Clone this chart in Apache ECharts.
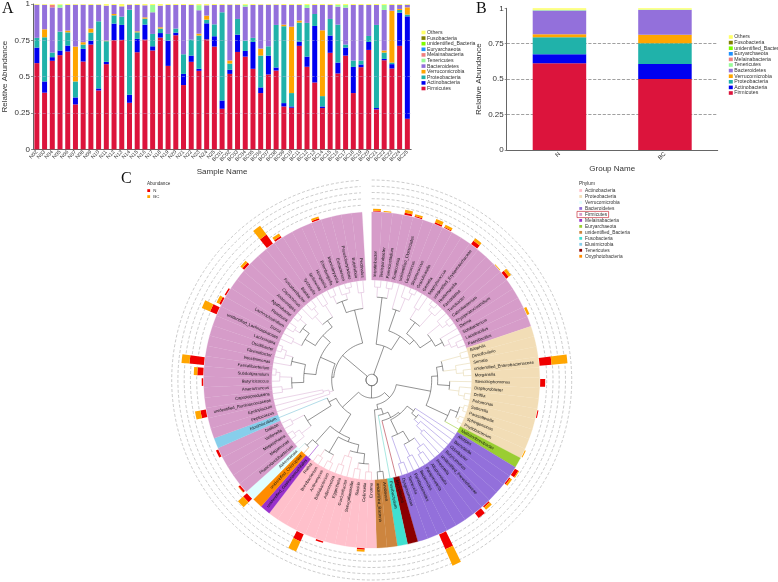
<!DOCTYPE html>
<html><head><meta charset="utf-8">
<style>html,body{margin:0;padding:0;background:#fff}#c{width:778px;height:582px}#c canvas{filter:blur(.35px)}</style>
<script src="https://cdn.jsdelivr.net/npm/echarts@6/dist/echarts.min.js"></script>
</head><body><div id="c"></div>
<script>
const FONT='"Liberation Sans",Arial,sans-serif';
// ---------- Panel A ----------
const sampleNames=['N02','N03','N04','N05','N06','N07','N08','N09','N10','N11','N12','N13','N14','N15','N16','N17','N18','N19','N20','N21','N22','N23','N24','N25','BC01','BC02','BC03','BC04','BC05','BC06','BC07','BC08','BC09','BC10','BC11','BC12','BC13','BC14','BC15','BC16','BC17','BC18','BC19','BC20','BC21','BC22','BC23','BC24','BC25'];
const firmicutesA=[.593,.39,.609,.648,.673,.309,.604,.721,.405,.586,.751,.753,.32,.668,.755,.68,.769,.574,.785,.442,.602,.54,.757,.707,.279,.519,.67,.638,.554,.387,.515,.542,.295,.286,.712,.568,.46,.284,.664,.522,.645,.387,.565,.684,.275,.613,.556,.712,.21];
const actinobacteriaA=[.107,.077,.025,.032,.041,.048,.087,.027,.014,.016,.114,.103,.055,.092,.103,.029,.031,.174,.018,.077,.043,.014,.11,.071,.057,.028,.119,.039,.185,.039,.13,.021,.023,.009,.029,.07,.389,.011,.119,.075,.055,.18,.019,.055,.009,.009,.03,.228,.705];
const proteobacteriaA=[.067,.304,.032,.13,.091,.11,.03,.055,.462,.142,.057,.057,.586,.045,.041,.085,.031,.046,.028,.135,.11,.229,.025,.082,.607,.043,.108,.071,.028,.219,.064,.293,.529,.092,.131,.232,.082,.071,.114,.261,.021,.044,.027,.041,.572,.044,.011,.019,.012];
const verrucomicrobiaA=[0,.055,0,0,.012,.24,.016,.028,0,.004,.009,0,0,.007,.009,0,.009,0,0,0,0,.013,.028,0,0,.021,0,0,0,.048,0,0,.011,.457,.014,0,0,.453,0,0,0,0,0,0,0,.014,.357,.007,.05];
const bacteroidetesA=[.228,.169,.311,.165,.176,.288,.258,.162,.114,.241,.062,.071,.034,.181,.083,.149,.149,.199,.162,.339,.238,.161,.071,.133,.05,.384,.098,.234,.226,.302,.286,.139,.135,.149,.107,.103,.062,.174,.096,.124,.254,.382,.382,.213,.137,.279,.039,.027,.018];
const tenericutesA=[0,0,0,.02,0,0,0,0,0,0,0,0,0,0,0,.05,0,0,0,0,0,.035,0,0,0,0,0,.012,0,0,0,0,0,0,0,.02,0,0,0,.012,.018,0,0,0,0,.035,0,0,0];
const melainabacteriaA=[0,0,.018,0,0,0,0,0,0,0,0,0,0,0,0,0,0,0,0,0,0,0,0,0,0,0,0,0,0,0,0,0,0,0,0,0,0,0,0,0,0,0,0,0,0,0,0,0,0];
const othersA=[.005,.005,.005,.005,.007,.005,.005,.007,.005,.011,.007,.016,.005,.007,.009,.007,.011,.007,.007,.007,.007,.008,.009,.007,.007,.005,.005,.006,.007,.005,.005,.005,.007,.007,.007,.007,.007,.007,.007,.006,.007,.007,.007,.007,.007,.006,.007,.007,.005];
// ---------- Panel B ----------
const groupNames=['N','BC'];
const firmicutesB=[.612,.501];
const actinobacteriaB=[.063,.106];
const proteobacteriaB=[.12,.146];
const verrucomicrobiaB=[.021,.061];
const bacteroidetesB=[.168,.174];
const tenericutesB=[.006,.004];
const othersB=[.01,.008];
// ---------- Stack legend ----------
const stackNames=['Firmicutes','Actinobacteria','Proteobacteria','Verrucomicrobia','Bacteroidetes','Tenericutes','Melainabacteria','Euryarchaeota','unidentified_Bacteria','Fusobacteria','Others'];
const stackColors=['#DC143C','#0000F0','#20B2AA','#FFA500','#9370DB','#98FB98','#F08080','#1E90FF','#7CFC00','#808000','#FFFF66'];
// ---------- Panel C ----------
const phylumNames=['Actinobacteria','Proteobacteria','Verrucomicrobia','Bacteroidetes','Firmicutes','Melainabacteria','Euryarchaeota','unidentified_Bacteria','Fusobacteria','Elusimicrobia','Tenericutes','Oxyphotobacteria'];
const phylumColors=['#FFC0CB','#F2DDB6','#E0FFFF','#9370DB','#D69CC9','#9932CC','#9ACD32','#CD853F','#40E0D0','#87CEEB','#8B0000','#FF8C00'];
const phylumLines=['#F2B8C6','#E6D9B0','#BFE8E8','#9D8AE0','#DDB8D8','#9932CC','#9ACD32','#555555','#6FD8CC','#7FC4D8','#B03040','#E8A050'];
const cladeOrder=['Firmicutes','Proteobacteria','Euryarchaeota','Bacteroidetes','Tenericutes','Fusobacteria','unidentified_Bacteria','Actinobacteria','Melainabacteria','Oxyphotobacteria','Verrucomicrobia','Firmicutes','Elusimicrobia','Firmicutes'];
const cladeSizes=[20,13,1,12,1,1,2,11,1,1,1,5,1,30];
const tipLabels=['Intestinibacter','Terrisporobacter','Paeniclostridium','Romboutsia','unidentified_Clostridiales','Lactococcus','Streptococcus','Granulicatella','Gemella','Staphylococcus','unidentified_Erysipelotrichaceae','Holdemanella','Faecalitalea','Turicibacter','Catenibacterium','Erysipelatoclostridium','Dielma','Solobacterium','Lactobacillus','Paenibacillus',
'Bilophila','Desulfovibrio','Serratia','unidentified_Enterobacteriaceae','Morganella','Stenotrophomonas','Diaphorobacter','Delftia','Pelomonas','Sutterella','Parasutterella','Sphingomonas','Phyllobacterium',
'Methanobrevibacter',
'Alistipes','Barnesiella','Odoribacter','Butyricimonas','unidentified_Prevotellaceae','Prevotella','Alloprevotella','Paraprevotella','Bacteroides','Parabacteroides','Tannerella','Dysgonomonas',
'Mycoplasma','Fusobacterium','Anabaena','unidentified_Bacteria',
'Enorma','Collinsella','Slackia','Senegalimassilia','Gordonibacter','Eggerthella','Adlercreutzia','Bifidobacterium','Actinomyces','Brevibacterium','Rothia',
'unidentified_Gastranaerophilales','unidentified_Chloroplast','Akkermansia',
'Phascolarctobacterium','Megamonas','Megasphaera','Veillonella','Dialister','Elusimicrobium',
'Peptococcus','Epulopiscium','unidentified_Ruminococcaceae','Caproiciproducens','Anaerotruncus','Butyricicoccus','Subdoligranulum','Faecalibacterium','Intestinimonas','Flavonifractor','Oscillibacter','Lachnospira','unidentified_Lachnospiraceae','Dorea','Lachnoclostridium','Roseburia','Agathobacter','Anaerostipes','Coprococcus','Fusicatenibacter','Blautia','Tyzzerella','Sellimonas','Hungatella','Eisenbergiella','Marvinbryantia','Eubacterium','Pseudobutyrivibrio','Butyrivibrio','Pectinatus'];
const abundTips=[0,1,3,4,6,7,10,13,14,18,23,25,28,32,34,35,38,39,43,51,55,57,63,64,68,72,75,76,77,82,83,84,87,90,91,95];
const abundN=[.8,0,2,1,1.5,1,4,0,3,0,12,5,1,0,4,1.5,1.5,6,16,1.5,1.5,8,5,2,2.5,5.5,1.5,6,14.5,7,2,1.5,2.5,11,2,1.5];
const abundBC=[2,.8,3,2,3.5,2.5,3,.8,3,2.5,16,0,0,1,1,2,3,0,18,2,0,11,7,.5,0,5.5,0,3.5,8,9,3,0,2.5,11,3,2];
const ringRadii=[175,181.3,187.5,193.8,200];
// tree: [branch radius, ...children]; 0 is a tip, taken in clockwise order
const treeFirmRight=[36,[83,[93,0,0],[93,0,0]],[52,[74,0,[88,0,[95,0,0]]],[58,[72,[84,0,0],[90,[95,0,0],0]],[72,[88,0,[94,0,0]],[80,0,[86,0,[92,0,0]]]]]]];
const treeProteo=[60,[66,[72,[92,0,0],[85,0,[92,0,0]]],[78,0,[88,0,[94,0,0]]]],[84,[92,[96,0,0],[95,0,0]],0]];
const treeBacteroid=[44,[52,0,[58,0,[64,0,[72,0,0]]]],[60,[72,[82,0,[88,0,0]],[85,0,0]],[88,0,0]]];
const treeBacEtc=[30,[36,[42,treeBacteroid,0],0],[92,0,0]];
const treeActino=[62,[66,[74,[84,[92,0,0],[90,0,0]],[80,0,[90,0,0]]],[84,[92,0,0],[92,0,0]]],[84,0,[92,0,0]]];
const treeFirm5=[48,[76,[88,0,[94,0,0]],[90,0,0]],0];
const treeBottom=[18,[25,treeProteo,treeBacEtc],[40,treeActino,treeFirm5]];
const treeFirmLeft=[38,[40,[44,0,[50,0,0]],[56,[68,[80,[90,0,0],[92,0,[96,0,0]]],[82,0,[90,0,[95,0,0]]]],[66,[78,[88,0,0],[86,[92,0,0],[94,0,0]]],[74,[85,0,[92,0,0]],[88,0,0]]]]],[72,[84,[92,0,0],[90,0,[95,0,0]]],[88,0,0]]];
const treeRoot=[5.7,treeFirmRight,treeBottom,treeFirmLeft];

const TIP_STEP=3.567,TIP_R=100,OUTER_R=168,GAP_START=356.7;
const tipPhylum=[];cladeOrder.forEach((n,i)=>{for(let k=0;k<cladeSizes[i];k++)tipPhylum.push(phylumNames.indexOf(n));});
const edges=[];let leafCursor=0;const DARK=-1;
function walk(node){
  if(node===0){const i=leafCursor++;return{a:(i+.5)*TIP_STEP,r:TIP_R,n:1,ph:tipPhylum[i]};}
  const kids=node.slice(1).map(walk),r=node[0];
  const a=(kids[0].a+kids[kids.length-1].a)/2;
  let ph=kids[0].ph;kids.forEach(k=>{if(k.ph!==ph)ph=DARK;});
  const n=kids.reduce((s,k)=>s+k.n,0);
  const col=(ph!==DARK&&n<=3)?ph:DARK;
  edges.push([r,kids[0].a,r,kids[kids.length-1].a,col]);
  kids.forEach(k=>{const c=(k.ph!==DARK&&k.n<=3)?k.ph:DARK;edges.push([r,k.a,k.r,k.a,c]);});
  return{a,r,n,ph};
}
walk(treeRoot);
edges.push([5.7,0,5.7,360,DARK]);
const rad=d=>d*Math.PI/180;
function stackSeries(vals,xi,w){return vals.map((v,i)=>v&&{name:stackNames[i],type:'bar',stack:'s'+xi,xAxisIndex:xi,yAxisIndex:xi,data:v,barWidth:w,itemStyle:{color:stackColors[i]},silent:true,animation:false}).filter(Boolean);}
const zero=sampleNames.map(()=>0);
const seriesA=stackSeries([firmicutesA,actinobacteriaA,proteobacteriaA,verrucomicrobiaA,bacteroidetesA,tenericutesA,melainabacteriaA,zero,zero,zero,othersA],0,5);
const zeroB=[0,0];
const seriesB=stackSeries([firmicutesB,actinobacteriaB,proteobacteriaB,verrucomicrobiaB,bacteroidetesB,tenericutesB,zeroB,zeroB,zeroB,zeroB,othersB],1,53.5);
function radiusOf(params,api,v){const p=api.coord([v,0]),c=params.coordSys;return Math.hypot(p[0]-c.cx,p[1]-c.cy);}
const polarBase={coordinateSystem:'polar',polarIndex:0,silent:true,animation:false,clip:false,encode:{radius:0,angle:1}};
const seriesC=[
 Object.assign({},polarBase,{type:'custom',name:'rings',data:ringRadii.map(r=>[r,0]),z:2,renderItem(p,api){
   const c=p.coordSys;return{type:'arc',shape:{cx:c.cx,cy:c.cy,r:radiusOf(p,api,api.value(0)),startAngle:rad(-90),endAngle:rad(GAP_START-90),clockwise:true},style:{fill:null,stroke:'#b4b4b4',lineWidth:.7,lineDash:[3,2]}};
 }}),
 Object.assign({},polarBase,{type:'custom',name:'clades',data:tipPhylum.map((ph,i)=>[TIP_R,(i+.5)*TIP_STEP,ph]),z:3,renderItem(p,api){
   const c=p.coordSys,a=api.value(1),col=phylumColors[api.value(2)];
   return{type:'sector',shape:{cx:c.cx,cy:c.cy,r0:radiusOf(p,api,TIP_R),r:radiusOf(p,api,OUTER_R),startAngle:rad(a-TIP_STEP/2-90),endAngle:rad(a+TIP_STEP/2-90),clockwise:true},style:{fill:col,stroke:col,lineWidth:.25}};
 }}),
 Object.assign({},polarBase,{type:'custom',name:'tree',data:edges,z:4,renderItem(p,api){
   const r1=api.value(0),a1=api.value(1),r2=api.value(2),a2=api.value(3),ci=api.value(4);
   const pts=[];
   if(a1===a2){pts.push(api.coord([r1,a1]),api.coord([r2,a2]));}
   else{const n=Math.max(2,Math.ceil(Math.abs(a2-a1)/3));for(let k=0;k<=n;k++)pts.push(api.coord([r1,a1+(a2-a1)*k/n]));}
   return{type:'polyline',shape:{points:pts},style:{fill:null,stroke:ci<0?'#4a4a4a':phylumLines[ci],lineWidth:.6}};
 }}),
 Object.assign({},polarBase,{type:'custom',name:'tips',data:tipLabels.map((t,i)=>[103,(i+.5)*TIP_STEP,i]),z:5,renderItem(p,api){
   const a=api.value(1),pt=api.coord([api.value(0),a]),right=a<180;
   return{type:'text',x:pt[0],y:pt[1],rotation:right?rad(90-a):rad(270-a),style:{text:tipLabels[api.value(2)],fontSize:4.2,fontFamily:FONT,fill:'#111',align:right?'left':'right',verticalAlign:'middle'}};
 }}),
 Object.assign({},polarBase,{type:'custom',name:'N',data:abundTips.map((t,i)=>[OUTER_R+.5,(t+.5)*TIP_STEP,abundN[i]]).filter(d=>d[2]>0),z:6,renderItem(p,api){
   const c=p.coordSys,a=api.value(1),r0=api.value(0);
   return{type:'sector',shape:{cx:c.cx,cy:c.cy,r0:radiusOf(p,api,r0),r:radiusOf(p,api,r0+api.value(2)),startAngle:rad(a-1.3-90),endAngle:rad(a+1.3-90),clockwise:true},style:{fill:'#F00000'}};
 }}),
 Object.assign({},polarBase,{type:'custom',name:'BC',data:abundTips.map((t,i)=>[OUTER_R+.5+abundN[i],(t+.5)*TIP_STEP,abundBC[i]]).filter(d=>d[2]>0),z:6,renderItem(p,api){
   const c=p.coordSys,a=api.value(1),r0=api.value(0);
   return{type:'sector',shape:{cx:c.cx,cy:c.cy,r0:radiusOf(p,api,r0),r:radiusOf(p,api,r0+api.value(2)),startAngle:rad(a-1.3-90),endAngle:rad(a+1.3-90),clockwise:true},style:{fill:'#FFA500'}};
 }})
];
function yAxisOf(idx,name,gap){return{type:'value',gridIndex:idx,min:0,max:1,interval:.25,z:idx?0:3,name,nameLocation:'middle',nameGap:gap,nameTextStyle:{fontFamily:FONT,fontSize:8,color:'#333'},axisLine:{show:true,lineStyle:{color:'#666',width:1}},axisTick:{show:true,length:2,lineStyle:{color:'#666',width:.7}},axisLabel:{fontFamily:FONT,fontSize:8,color:'#333',margin:3},splitLine:{show:true,showMaxLine:false,showMinLine:false,lineStyle:{color:idx?'#888':'rgba(190,185,215,.55)',type:'dashed',width:.8}}};}
function legendOf(left,top){return{orient:'vertical',left,top,itemWidth:4,itemHeight:3.6,itemGap:.6,selectedMode:false,icon:'rect',textStyle:{fontFamily:FONT,fontSize:5.2,color:'#333',padding:[0,0,0,-3.5]},data:stackNames.slice().reverse()};}
const graphicEls=[];
function label(t,x,y,fs,fam,col){graphicEls.push({type:'text',x,y,silent:true,style:{text:t,fontSize:fs,fontFamily:fam||FONT,fill:col||'#333',verticalAlign:'middle'}});}
function swatch(x,y,col){graphicEls.push({type:'rect',silent:true,shape:{x,y:y-1.4,width:2.8,height:2.8},style:{fill:col}});}
label('A',2,8.5,16,'"Liberation Serif",serif','#111');
label('B',476,8.5,16,'"Liberation Serif",serif','#111');
label('C',121,178.5,16,'"Liberation Serif",serif','#111');
label('Abundance',147,183.7,4.6);
swatch(147.3,190.6,'#F00000');label('N',153.3,190.6,4.4);
swatch(147.3,196.6,'#FFA500');label('BC',153.3,196.6,4.4);
label('Phylum',579,183.7,4.8);
phylumNames.forEach((n,i)=>{const y=190.5+i*5.98;swatch(579.3,y,phylumColors[i]);label(n,585,y,4.8);});
graphicEls.push({type:'rect',silent:true,shape:{x:577,y:211.4,width:31.6,height:6.2},style:{fill:null,stroke:'#C8303C',lineWidth:.7}});
const chart=echarts.init(document.getElementById('c'),null,{renderer:'canvas'});
chart.setOption({
 animation:false,backgroundColor:'#fff',
 grid:[{left:31.8,top:3.3,width:379.4,height:146},{left:506.7,top:8.3,width:211,height:141.7}],
 xAxis:[
  {type:'category',gridIndex:0,data:sampleNames,name:'Sample Name',nameLocation:'middle',nameGap:18,nameTextStyle:{fontFamily:FONT,fontSize:8,color:'#333'},axisLine:{lineStyle:{color:'#666',width:1}},axisTick:{alignWithLabel:true,length:1.5,lineStyle:{color:'#666',width:.6}},axisLabel:{interval:0,rotate:45,fontFamily:FONT,fontSize:5.2,color:'#333',margin:2}},
  {type:'category',gridIndex:1,data:groupNames,name:'Group Name',nameLocation:'middle',nameGap:15,nameTextStyle:{fontFamily:FONT,fontSize:8,color:'#333'},axisLine:{lineStyle:{color:'#666',width:1}},axisTick:{alignWithLabel:true,length:2,lineStyle:{color:'#666',width:.7}},axisLabel:{interval:0,rotate:45,fontFamily:FONT,fontSize:6,color:'#333',margin:3}}
 ],
 yAxis:[yAxisOf(0,'Relative Abundance',24),yAxisOf(1,'Relative Abundance',24)],
 polar:{center:[371.7,380],radius:210},
 angleAxis:{type:'value',min:0,max:360,startAngle:90,clockwise:true,show:false,axisLine:{show:false},splitLine:{show:false},axisLabel:{show:false},axisTick:{show:false}},
 radiusAxis:{type:'value',min:0,max:210,show:false,axisLine:{show:false},splitLine:{show:false},axisLabel:{show:false},axisTick:{show:false}},
 legend:[legendOf(416.5,25),legendOf(723.8,29.5)],
 graphic:graphicEls,
 series:[...seriesA,...seriesB,...seriesC]
});
</script></body></html>
